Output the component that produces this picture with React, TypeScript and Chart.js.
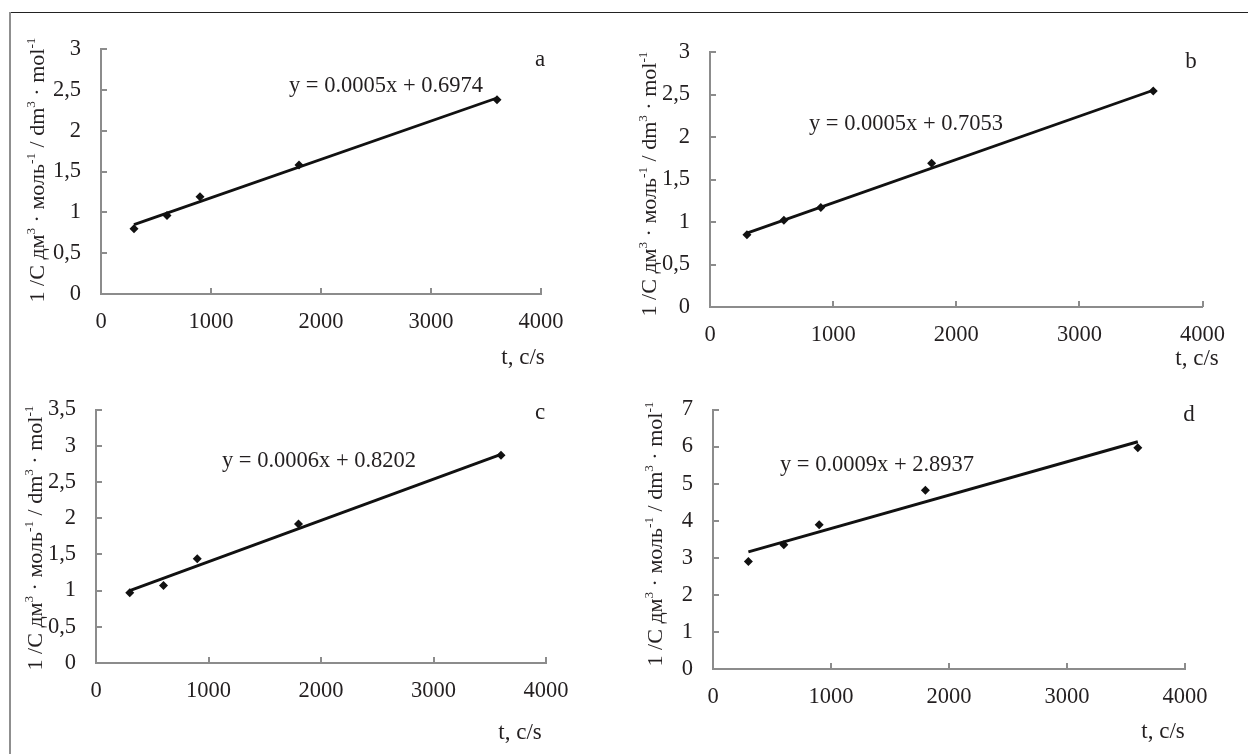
import React, { useEffect, useRef } from "react";
import { Chart, registerables } from "chart.js";

Chart.register(...registerables);

const FONT = '"Liberation Serif", "Times New Roman", serif';
const TEXT = "#231f20";
const AXIS = "#8c8c8c";
const MARK = "#111111";

// ---- data ----
const times = [300, 600, 900, 1800, 3600];
const xTickValues = [0, 1000, 2000, 3000, 4000];

const valuesA = [0.8, 0.96, 1.19, 1.58, 2.38];
const valuesB = [0.85, 1.02, 1.17, 1.69, 2.54];
const valuesC = [0.97, 1.07, 1.44, 1.92, 2.87];
const valuesD = [2.9, 3.35, 3.89, 4.82, 5.97];

const trendTimes = [300, 3600];
const trendA = [0.85, 2.4];
const trendB = [0.87, 2.55];
const trendC = [1.0, 2.88];
const trendD = [3.16, 6.13];

const yTicksA = [0, 0.5, 1, 1.5, 2, 2.5, 3];
const yTicksB = [0, 0.5, 1, 1.5, 2, 2.5, 3];
const yTicksC = [0, 0.5, 1, 1.5, 2, 2.5, 3, 3.5];
const yTicksD = [0, 1, 2, 3, 4, 5, 6, 7];

const equations = [
  "y = 0.0005x + 0.6974",
  "y = 0.0005x + 0.7053",
  "y = 0.0006x + 0.8202",
  "y = 0.0009x + 2.8937",
];
const panelLetters = ["a", "b", "c", "d"];
const xAxisTitle = "t, c/s";
const yTitleParts: { t: string; sup?: boolean }[] = [
  { t: "1 /C дм" },
  { t: "3", sup: true },
  { t: " · моль" },
  { t: "-1", sup: true },
  { t: " / dm" },
  { t: "3", sup: true },
  { t: " · mol" },
  { t: "-1", sup: true },
];

// ---- layout (page pixel coordinates) ----
type Layout = {
  box: [number, number, number, number]; // left, top, width, height
  plot: [number, number, number, number]; // left, top, right, bottom
  letter: [number, number];
  eq: [number, number];
  title: [number, number];
  xt: [number, number];
};

const layouts: Layout[] = [
  { box: [10, 14, 600, 360], plot: [101, 49, 541, 294], letter: [540, 60], eq: [386, 86], title: [37, 170], xt: [523, 358] },
  { box: [620, 14, 620, 360], plot: [710, 52, 1206, 307], letter: [1191, 62], eq: [906, 124], title: [649, 184], xt: [1197, 359] },
  { box: [10, 376, 600, 374], plot: [96, 409, 546, 663], letter: [540, 413], eq: [319, 461], title: [35, 538], xt: [520, 733] },
  { box: [620, 376, 620, 374], plot: [713, 408, 1185, 669], letter: [1189, 415], eq: [877, 465], title: [655, 534], xt: [1163, 732] },
];

const panelValues = [valuesA, valuesB, valuesC, valuesD];
const panelTrends = [trendA, trendB, trendC, trendD];
const panelYTicks = [yTicksA, yTicksB, yTicksC, yTicksD];

const TICK_SIZE = 22.5;
const EQ_SIZE = 22.5;
const TITLE_SIZE = 22;
const Y_AXIS_W = 50;
const X_AXIS_H = 50;

function drawRotatedRich(ctx: CanvasRenderingContext2D, cx: number, cy: number, size: number) {
  ctx.save();
  ctx.translate(cx, cy);
  ctx.rotate(-Math.PI / 2);
  const supScale = 0.6;
  let total = 0;
  for (const p of yTitleParts) {
    ctx.font = `${p.sup ? size * supScale : size}px ${FONT}`;
    total += ctx.measureText(p.t).width;
  }
  let x = -total / 2;
  const base = size * 0.34;
  ctx.fillStyle = TEXT;
  ctx.textBaseline = "alphabetic";
  ctx.textAlign = "left";
  for (const p of yTitleParts) {
    const fs = p.sup ? size * supScale : size;
    ctx.font = `${fs}px ${FONT}`;
    ctx.fillText(p.t, x, p.sup ? base - size * 0.42 : base);
    x += ctx.measureText(p.t).width;
  }
  ctx.restore();
}

function Panel({ idx }: { idx: number }) {
  const ref = useRef<HTMLCanvasElement | null>(null);
  const L = layouts[idx];
  const [bl, bt, bw, bh] = L.box;
  const [pl, pt, pr, pb] = L.plot;

  useEffect(() => {
    if (!ref.current) return;
    const values = panelValues[idx];
    const trend = panelTrends[idx];
    const yTicks = panelYTicks[idx];

    const overlay = {
      id: "overlay" + idx,
      afterDraw(chart: any) {
        const ctx: CanvasRenderingContext2D = chart.ctx;
        const xs = chart.scales.x;
        const ys = chart.scales.y;
        const area = chart.chartArea;
        ctx.save();
        ctx.strokeStyle = AXIS;
        ctx.lineWidth = 2;
        ctx.beginPath();
        for (const v of xTickValues) {
          const px = Math.round(xs.getPixelForValue(v));
          ctx.moveTo(px, area.bottom);
          ctx.lineTo(px, area.bottom - 6);
        }
        for (const v of yTicks) {
          const py = Math.round(ys.getPixelForValue(v));
          ctx.moveTo(area.left, py);
          ctx.lineTo(area.left + 6, py);
        }
        ctx.stroke();

        ctx.fillStyle = TEXT;
        ctx.textAlign = "center";
        ctx.textBaseline = "middle";
        ctx.font = `${EQ_SIZE}px ${FONT}`;
        ctx.fillText(equations[idx], L.eq[0] - bl, L.eq[1] - bt);
        ctx.font = `23px ${FONT}`;
        ctx.fillText(panelLetters[idx], L.letter[0] - bl, L.letter[1] - bt);
        ctx.fillText(xAxisTitle, L.xt[0] - bl, L.xt[1] - bt);
        ctx.restore();

        drawRotatedRich(ctx, L.title[0] - bl, L.title[1] - bt, TITLE_SIZE);
      },
    };

    const chart = new Chart(ref.current, {
      type: "scatter",
      data: {
        datasets: [
          {
            data: times.map((t, i) => ({ x: t, y: values[i] })),
            pointStyle: "rectRot",
            pointRadius: 4.5,
            backgroundColor: MARK,
            borderColor: MARK,
            borderWidth: 0,
            showLine: false,
          },
          {
            data: trendTimes.map((t, i) => ({ x: t, y: trend[i] })),
            showLine: true,
            borderColor: MARK,
            borderWidth: 2.9,
            pointRadius: 0,
            fill: false,
          },
        ],
      } as any,
      options: {
        animation: false,
        responsive: false,
        maintainAspectRatio: false,
        events: [],
        layout: {
          padding: {
            left: pl - bl - Y_AXIS_W,
            top: pt - bt,
            right: bl + bw - pr,
            bottom: bt + bh - pb - X_AXIS_H,
          },
        },
        plugins: { legend: { display: false }, tooltip: { enabled: false } },
        scales: {
          x: {
            type: "linear",
            min: xTickValues[0],
            max: xTickValues[xTickValues.length - 1],
            afterBuildTicks: (s: any) => {
              s.ticks = xTickValues.map((v) => ({ value: v }));
            },
            afterFit: (s: any) => {
              s.height = X_AXIS_H;
            },
            grid: { display: true, drawOnChartArea: false, drawTicks: false },
            border: { display: true, color: AXIS, width: 2 },
            ticks: {
              color: TEXT,
              font: { family: FONT, size: TICK_SIZE },
              padding: 15,
              maxRotation: 0,
              autoSkip: false,
              callback: (v: any) => String(v),
            },
          },
          y: {
            type: "linear",
            min: yTicks[0],
            max: yTicks[yTicks.length - 1],
            afterBuildTicks: (s: any) => {
              s.ticks = yTicks.map((v) => ({ value: v }));
            },
            afterFit: (s: any) => {
              s.width = Y_AXIS_W;
            },
            grid: { display: true, drawOnChartArea: false, drawTicks: false },
            border: { display: true, color: AXIS, width: 2 },
            ticks: {
              color: TEXT,
              font: { family: FONT, size: TICK_SIZE },
              padding: 20,
              autoSkip: false,
              callback: (v: any) => String(v).replace(".", ","),
            },
          },
        },
      } as any,
      plugins: [overlay],
    });
    return () => chart.destroy();
  }, [idx]);

  return (
    <canvas
      ref={ref}
      width={bw}
      height={bh}
      style={{ position: "absolute", left: bl, top: bt, width: bw, height: bh }}
    />
  );
}

export default function App() {
  return (
    <div
      style={{
        position: "absolute",
        left: 0,
        top: 0,
        width: 1248,
        height: 754,
        background: "#ffffff",
        overflow: "hidden",
      }}
    >
      <div style={{ position: "absolute", left: 9, top: 12, width: 1239, height: 1, background: "#222" }} />
      <div style={{ position: "absolute", left: 9, top: 12, width: 2, height: 742, background: "#8f8f8f" }} />
      {[0, 1, 2, 3].map((i) => (
        <Panel key={i} idx={i} />
      ))}
    </div>
  );
}
